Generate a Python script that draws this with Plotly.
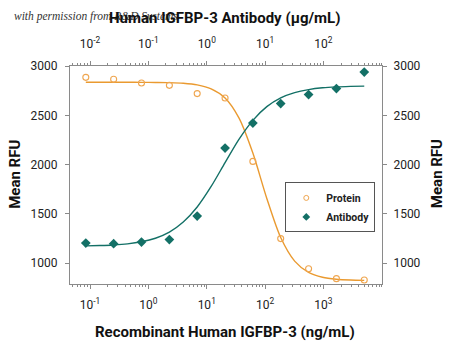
import plotly.graph_objects as go

# ---- data ----
conc_ng = [0.0847, 0.254, 0.762, 2.29, 6.86, 20.6, 61.7, 185, 556, 1667, 5000]
protein_rfu = [2885, 2865, 2828, 2804, 2720, 2675, 2033, 1250, 945, 844, 830]
antibody_rfu = [1205, 1199, 1215, 1240, 1479, 2168, 2422, 2619, 2710, 2771, 2939]

fit_conc = [0.0847, 0.1466, 0.254, 0.4397, 0.762, 1.32, 2.29, 3.96, 6.86, 11.9,
            20.6, 35.6, 61.7, 107, 185, 321, 556, 963, 1667, 2890, 5000]
protein_fit = [2835, 2835, 2835, 2835, 2834, 2833, 2831, 2825, 2809, 2769,
               2676, 2474, 2117, 1657, 1261, 1022, 907, 858, 838, 830, 827]
antibody_fit = [1176, 1180, 1186, 1197, 1218, 1254, 1316, 1418, 1571, 1779,
                2020, 2256, 2449, 2588, 2677, 2730, 2761, 2779, 2788, 2793, 2796]

bottom_tickvals = [0.1, 1, 10, 100, 1000]
bottom_ticktext = ["10<sup>-1</sup>", "10<sup>0</sup>", "10<sup>1</sup>", "10<sup>2</sup>", "10<sup>3</sup>"]
top_tickvals = [0.01, 0.1, 1, 10, 100]
top_ticktext = ["10<sup>-2</sup>", "10<sup>-1</sup>", "10<sup>0</sup>", "10<sup>1</sup>", "10<sup>2</sup>"]
y_tickvals = [1000, 1500, 2000, 2500, 3000]

ORANGE_LINE = "#EA9A30"
ORANGE_MARK = "#EFA650"
TEAL = "#137066"
AXIS = "#8a8a8a"
NARROW = "Roboto, DejaVu Sans Condensed, sans-serif"

fig = go.Figure()
fig.add_trace(go.Scatter(x=fit_conc, y=protein_fit, mode="lines",
                         line=dict(color=ORANGE_LINE, width=1.4, shape="spline", smoothing=0.8),
                         showlegend=False, hoverinfo="skip"))
fig.add_trace(go.Scatter(x=fit_conc, y=antibody_fit, mode="lines",
                         line=dict(color=TEAL, width=1.4, shape="spline", smoothing=0.8),
                         showlegend=False, hoverinfo="skip"))
fig.add_trace(go.Scatter(x=conc_ng, y=protein_rfu, mode="markers", name="Protein",
                         marker=dict(symbol="circle-open", size=6, color=ORANGE_MARK,
                                     line=dict(width=1.1, color=ORANGE_MARK)),
                         showlegend=False))
fig.add_trace(go.Scatter(x=conc_ng, y=antibody_rfu, mode="markers", name="Antibody",
                         marker=dict(symbol="diamond", size=7.5, color=TEAL),
                         showlegend=False))
# legend entries (smaller symbols, as in the reference legend)
fig.add_trace(go.Scatter(x=[None], y=[None], mode="markers", name="Protein",
                         marker=dict(symbol="circle-open", size=5, color=ORANGE_MARK,
                                     line=dict(width=1, color=ORANGE_MARK))))
fig.add_trace(go.Scatter(x=[None], y=[None], mode="markers", name="Antibody",
                         marker=dict(symbol="diamond", size=6, color=TEAL)))
# placeholder trace so the secondary (top/right) axes are drawn
fig.add_trace(go.Scatter(x=[None], y=[None], xaxis="x2", yaxis="y2",
                         showlegend=False, hoverinfo="skip"))

tickfont = dict(family=NARROW, size=12, color="#222")
minor = dict(ticks="outside", ticklen=2, tickcolor=AXIS, dtick="D1", showgrid=False)

fig.update_layout(
    width=450, height=347,
    margin=dict(l=70, r=68, t=66, b=63),
    paper_bgcolor="white", plot_bgcolor="white",
    showlegend=True,
    legend=dict(x=0.69, y=0.466, xanchor="left", yanchor="top",
                bordercolor="#555", borderwidth=1, bgcolor="white",
                font=dict(family=NARROW, size=10.5, color="#222", weight="bold"),
                tracegroupgap=0, itemwidth=30),
    xaxis=dict(type="log", range=[-1.343, 4.003], showline=True, linecolor=AXIS, linewidth=1,
               ticks="outside", ticklen=4, tickcolor=AXIS, tickmode="array",
               tickvals=bottom_tickvals, ticktext=bottom_ticktext, tickfont=tickfont,
               ticklabelstandoff=6, showgrid=False, zeroline=False, minor=minor),
    xaxis2=dict(type="log", range=[-2.343, 3.003], overlaying="x", side="top",
                showline=True, linecolor=AXIS, linewidth=1,
                ticks="outside", ticklen=4, tickcolor=AXIS, tickmode="array",
                tickvals=top_tickvals, ticktext=top_ticktext, tickfont=tickfont,
                ticklabelstandoff=8, showgrid=False, zeroline=False, minor=minor),
    yaxis=dict(range=[790, 3000], showline=True, linecolor=AXIS, linewidth=1,
               ticks="outside", ticklen=4, tickcolor=AXIS, tickmode="array",
               tickvals=y_tickvals, tickfont=tickfont, showgrid=False, zeroline=False,
               ticklabelstandoff=5),
    yaxis2=dict(range=[790, 3000], overlaying="y", side="right", showline=True,
                linecolor=AXIS, linewidth=1, ticks="outside", ticklen=4, tickcolor=AXIS,
                tickmode="array", tickvals=y_tickvals, tickfont=tickfont,
                showgrid=False, zeroline=False, ticklabelstandoff=4),
)

title_font = dict(family=NARROW, size=15, color="#111", weight="bold")
fig.add_annotation(text="<i>with permission from R&amp;D Systems</i>", xref="paper", yref="paper",
                   x=-0.186, y=1.225, xanchor="left", yanchor="middle", showarrow=False,
                   font=dict(family="Liberation Serif, DejaVu Serif, serif", size=11.5, color="#333"))
fig.add_annotation(text="Human IGFBP-3 Antibody (μg/mL)", xref="paper", yref="paper",
                   x=0.494, y=1.22, xanchor="center", yanchor="middle", showarrow=False,
                   font=title_font)
fig.add_annotation(text="Recombinant Human IGFBP-3 (ng/mL)", xref="paper", yref="paper",
                   x=0.497, y=-0.22, xanchor="center", yanchor="middle", showarrow=False,
                   font=title_font)
fig.add_annotation(text="Mean RFU", xref="paper", yref="paper", textangle=-90,
                   x=-0.1765, y=0.505, xanchor="center", yanchor="middle", showarrow=False,
                   font=title_font)
fig.add_annotation(text="Mean RFU", xref="paper", yref="paper", textangle=-90,
                   x=1.177, y=0.505, xanchor="center", yanchor="middle", showarrow=False,
                   font=title_font)

fig.write_html("out.html")
